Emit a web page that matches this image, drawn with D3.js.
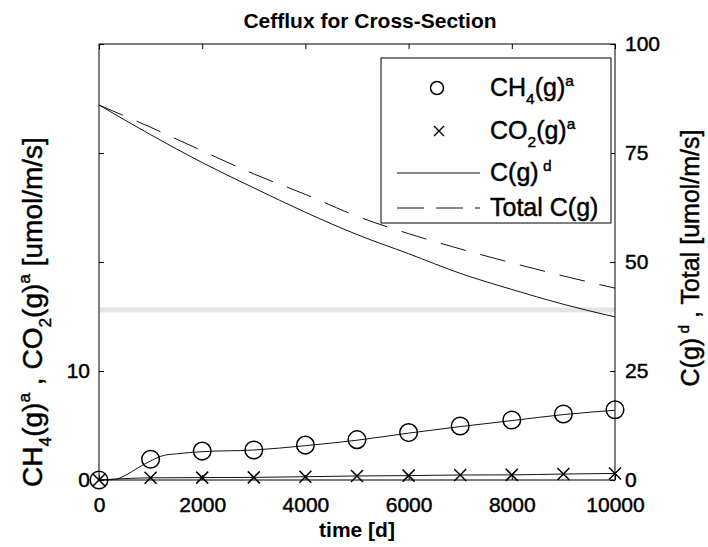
<!DOCTYPE html>
<html>
<head>
<meta charset="utf-8">
<script src="https://cdn.jsdelivr.net/npm/d3@7"></script>
<style>
  body { margin: 0; background: #fff; }
  svg { display: block; font-family: "Liberation Sans", Arial, Helvetica, sans-serif; }
  .heavy { stroke: #000; stroke-width: 0.45px; paint-order: stroke; }
</style>
</head>
<body>
<svg id="chart" width="708" height="547"></svg>
<script>
// ---- data -------------------------------------------------------------
const sampleTimes = [0, 1000, 2000, 3000, 4000, 5000, 6000, 7000, 8000, 9000, 10000];

// left axis series [umol/m/s]
const ch4Markers = [0, 1.9, 2.65, 2.75, 3.2, 3.7, 4.35, 4.95, 5.5, 6.05, 6.45];
const co2Markers = [0, 0.2, 0.22, 0.24, 0.3, 0.37, 0.4, 0.46, 0.47, 0.55, 0.6];

const ch4CurveTimes  = [0, 300, 500, 750, 1000, 1250, 1500, 2000, 3000, 4000, 5000, 6000, 7000, 8000, 9000, 10000];
const ch4CurveValues = [0, 0.05, 0.4, 1.1, 1.75, 2.25, 2.4, 2.6, 2.75, 3.15, 3.65, 4.3, 4.9, 5.45, 6.0, 6.4];
const co2CurveValues = [0, 0.2, 0.22, 0.24, 0.3, 0.37, 0.4, 0.46, 0.47, 0.55, 0.6];

// right axis series [umol/m/s]
const cgDissolved = [86.0, 79.2, 72.8, 67.0, 61.4, 56.3, 51.9, 47.4, 43.7, 40.3, 37.4];
const cgTotal     = [86.0, 80.9, 75.5, 70.2, 65.5, 60.5, 56.5, 53.0, 49.8, 46.8, 44.0];

// axis ticks
const xTicks = [0, 2000, 4000, 6000, 8000, 10000];
const leftTicks = [0, 10, 20, 30, 40];
const leftTickLabels = ["0", "10", "", "", ""];
const rightTicks = [0, 25, 50, 75, 100];

// light horizontal band across the axes (left axis units)
const bandLevel = 15.6;

// ---- layout -----------------------------------------------------------
const W = 708, H = 547;
const m = { left: 99, right: 93, top: 44, bottom: 67 };
const pw = W - m.left - m.right, ph = H - m.top - m.bottom;

const svg = d3.select("#chart");
const g = svg.append("g").attr("transform", `translate(${m.left},${m.top})`);

const x = d3.scaleLinear().domain([0, 10000]).range([0, pw]);
const yL = d3.scaleLinear().domain([0, 40]).range([ph, 0]);
const yR = d3.scaleLinear().domain([0, 100]).range([ph, 0]);

const TICK_FONT = 21;

// rich text helper: parts with optional sub / sup
function rich(textSel, parts, size) {
  let cur = 0;
  parts.forEach(p => {
    let target = 0, fs = size;
    if (p.sub) { target = size * 0.32; fs = size * 0.62; }
    if (p.sup) { target = -size * 0.42; fs = size * 0.62; }
    textSel.append("tspan")
      .attr("dy", target - cur)
      .attr("font-size", fs)
      .text(p.t);
    cur = target;
  });
}

// ---- band -------------------------------------------------------------
g.append("rect")
  .attr("x", 1).attr("width", pw - 1)
  .attr("y", yL(bandLevel) - 2.5).attr("height", 5)
  .attr("fill", "#e4e4e4");

// ---- axes -------------------------------------------------------------
function styleAxis(sel) {
  sel.selectAll("text").attr("font-size", TICK_FONT).attr("fill", "#000")
     .attr("font-family", "Liberation Sans, Arial, sans-serif").attr("class", "heavy");
  sel.selectAll("line").attr("stroke", "#000");
  sel.select(".domain").remove();
}

g.append("g").attr("transform", `translate(0,${ph})`)
  .call(d3.axisBottom(x).tickValues(xTicks).tickFormat(d3.format("d"))
        .tickSizeInner(-5).tickSizeOuter(0).tickPadding(17))
  .call(styleAxis);

g.append("g")
  .call(d3.axisTop(x).tickValues(xTicks).tickFormat("")
        .tickSizeInner(-5).tickSizeOuter(0))
  .call(styleAxis);

g.append("g")
  .call(d3.axisLeft(yL).tickValues(leftTicks).tickFormat((d, i) => leftTickLabels[i])
        .tickSizeInner(-5).tickSizeOuter(0).tickPadding(9))
  .call(styleAxis);

g.append("g").attr("transform", `translate(${pw},0)`)
  .call(d3.axisRight(yR).tickValues(rightTicks).tickFormat(d3.format("d"))
        .tickSizeInner(-5).tickSizeOuter(0).tickPadding(10))
  .call(styleAxis);

// frame
g.append("rect").attr("width", pw).attr("height", ph)
  .attr("fill", "none").attr("stroke", "#000").attr("stroke-width", 1);

// ---- lines ------------------------------------------------------------
const lineL = d3.line().x(d => x(d[0])).y(d => yL(d[1])).curve(d3.curveMonotoneX);
const lineR = d3.line().x(d => x(d[0])).y(d => yR(d[1])).curve(d3.curveMonotoneX);

g.append("path").datum(sampleTimes.map((t, i) => [t, cgDissolved[i]]))
  .attr("d", lineR).attr("fill", "none").attr("stroke", "#111").attr("stroke-width", 1);

g.append("path").datum(sampleTimes.map((t, i) => [t, cgTotal[i]]))
  .attr("d", lineR).attr("fill", "none").attr("stroke", "#111").attr("stroke-width", 1)
  .attr("stroke-dasharray", "26,15");

g.append("path").datum(ch4CurveTimes.map((t, i) => [t, ch4CurveValues[i]]))
  .attr("d", lineL).attr("fill", "none").attr("stroke", "#111").attr("stroke-width", 1);

g.append("path").datum(sampleTimes.map((t, i) => [t, co2CurveValues[i]]))
  .attr("d", lineL).attr("fill", "none").attr("stroke", "#111").attr("stroke-width", 1);

// ---- markers ----------------------------------------------------------
g.selectAll("circle.ch4").data(sampleTimes.map((t, i) => [t, ch4Markers[i]]))
  .join("circle").attr("class", "ch4")
  .attr("cx", d => x(d[0])).attr("cy", d => yL(d[1])).attr("r", 8.8)
  .attr("fill", "none").attr("stroke", "#000").attr("stroke-width", 1.5);

const crossPath = "M-6,-6L6,6M-6,6L6,-6";
g.selectAll("path.co2").data(sampleTimes.map((t, i) => [t, co2Markers[i]]))
  .join("path").attr("class", "co2")
  .attr("transform", d => `translate(${x(d[0])},${yL(d[1])})`)
  .attr("d", crossPath).attr("fill", "none").attr("stroke", "#000").attr("stroke-width", 1.5);

// ---- legend -----------------------------------------------------------
const LEG_FONT = 25;
const leg = g.append("g").attr("transform", `translate(${pw - 234},${14})`);
leg.append("rect").attr("width", 230).attr("height", 165)
  .attr("fill", "#fff").attr("stroke", "#000").attr("stroke-width", 1);

const legendRows = [
  { y: 30, kind: "circle", parts: [{ t: "CH" }, { t: "4", sub: true }, { t: "(g)" }, { t: "a", sup: true }] },
  { y: 73, kind: "cross",  parts: [{ t: "CO" }, { t: "2", sub: true }, { t: "(g)" }, { t: "a", sup: true }] },
  { y: 115, kind: "solid", parts: [{ t: "C(g)" }, { t: " d", sup: true }] },
  { y: 150, kind: "dash",  parts: [{ t: "Total C(g)" }] }
];
legendRows.forEach(r => {
  if (r.kind === "circle") {
    leg.append("circle").attr("cx", 56).attr("cy", r.y).attr("r", 6.5)
      .attr("fill", "none").attr("stroke", "#000").attr("stroke-width", 1.5);
  } else if (r.kind === "cross") {
    leg.append("path").attr("transform", `translate(58,${r.y})`)
      .attr("d", "M-5,-5L5,5M-5,5L5,-5").attr("stroke", "#000").attr("stroke-width", 1.4);
  } else {
    leg.append("line").attr("x1", 16).attr("x2", 99).attr("y1", r.y).attr("y2", r.y)
      .attr("stroke", "#111").attr("stroke-width", 1)
      .attr("stroke-dasharray", r.kind === "dash" ? "27,12" : null);
  }
  const t = leg.append("text").attr("x", 109).attr("y", r.y + 8)
    .attr("font-size", LEG_FONT).attr("fill", "#000").attr("class", "heavy");
  rich(t, r.parts, LEG_FONT);
});

// ---- titles -----------------------------------------------------------
svg.append("text").attr("x", m.left + pw / 2 + 13).attr("y", 28)
  .attr("text-anchor", "middle").attr("font-weight", "bold").attr("font-size", 21)
  .text("Cefflux for Cross-Section");

svg.append("text").attr("x", m.left + pw / 2).attr("y", 537)
  .attr("text-anchor", "middle").attr("font-weight", "bold").attr("font-size", 21)
  .text("time [d]");

const yl = svg.append("text")
  .attr("transform", `translate(42,312) rotate(-90)`)
  .attr("text-anchor", "middle").attr("font-size", 28).attr("class", "heavy");
rich(yl, [{ t: "CH" }, { t: "4", sub: true }, { t: "(g)" }, { t: "a", sup: true },
          { t: " , CO" }, { t: "2", sub: true }, { t: "(g)" }, { t: "a", sup: true },
          { t: " [umol/m/s]" }], 28);

const yr = svg.append("text")
  .attr("transform", `translate(699,258) rotate(-90)`)
  .attr("text-anchor", "middle").attr("font-size", 25).attr("class", "heavy");
rich(yr, [{ t: "C(g)" }, { t: " d", sup: true }, { t: " , Total [umol/m/s]" }], 25);
</script>
</body>
</html>
